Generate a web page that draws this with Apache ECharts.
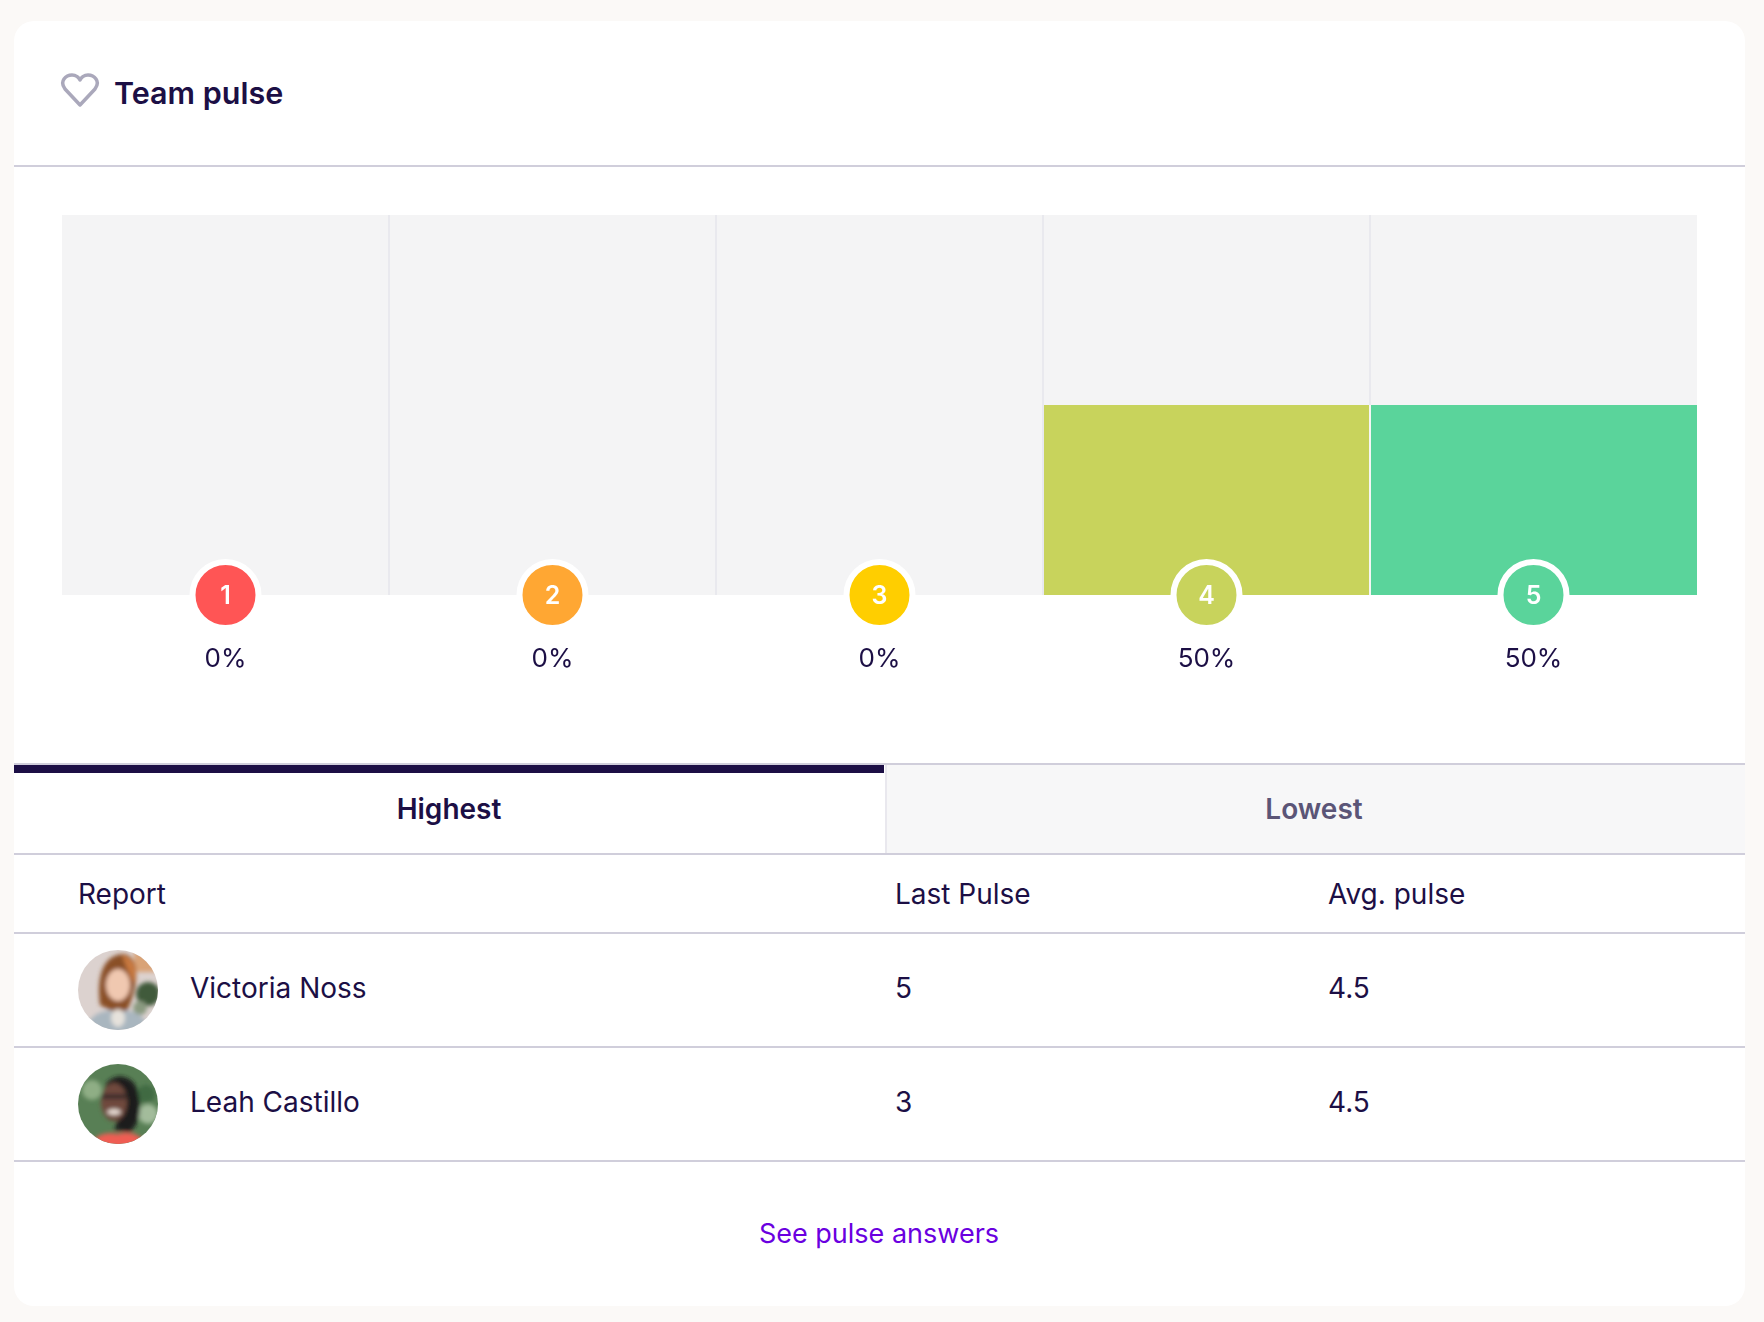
<!DOCTYPE html>
<html>
<head>
<meta charset="utf-8">
<title>Team pulse</title>
<script src="https://cdn.jsdelivr.net/npm/echarts@6/dist/echarts.min.js"></script>
<style>
  html, body { margin: 0; padding: 0; background: #fbf9f7; }
  body { width: 1764px; height: 1322px; position: relative; overflow: hidden; font-family: Inter, "Noto Sans", sans-serif; color: #1c0f45; font-size: 28px; }
  .card { position: absolute; left: 14px; top: 21px; width: 1731px; height: 1285px; background: #fff; border-radius: 20px; }
  .rule { position: absolute; left: 14px; width: 1731px; height: 2px; background: #d0cedb; }
  .txt { position: absolute; white-space: nowrap; line-height: 40px; transform: translateY(-50%); }
  .center { transform: translate(-50%, -50%); }
  .title { font-size: 30.5px; font-weight: 600; }
  .tab { font-weight: 600; }
  #lowest { position: absolute; left: 885px; top: 765px; width: 860px; height: 88px; background: #f7f7f8; border-left: 2px solid #e9e8ee; box-sizing: border-box; }
  #activeBar { position: absolute; left: 14px; top: 765px; width: 870px; height: 8px; background: #1c0f45; }
  #chart { position: absolute; left: 14px; top: 170px; width: 1731px; height: 590px; }
  .avatar { position: absolute; left: 78px; width: 80px; height: 80px; }
</style>
</head>
<body>
<div class="card"></div>

<svg style="position:absolute;left:60px;top:72px" width="40" height="36" viewBox="0 0 40 36">
  <path d="M20 33 L5 17 C-1 9 6 3 12 3 C16 3 19 6 20 8 C21 6 24 3 28 3 C34 3 41 9 35 17 Z" fill="none" stroke="#aaa8bb" stroke-width="3.5" stroke-linejoin="round"/>
</svg>
<div class="txt title" style="left:114px;top:93px">Team pulse</div>
<div class="rule" style="top:165px"></div>

<div id="chart"></div>

<div class="rule" style="top:763px"></div>
<div id="lowest"></div>
<div id="activeBar"></div>
<div class="txt tab center" style="left:449px;top:809px">Highest</div>
<div class="txt tab center" style="left:1314px;top:809px;color:#5b5577">Lowest</div>
<div class="rule" style="top:853px"></div>
<div class="rule" style="top:932px"></div>
<div class="rule" style="top:1046px"></div>
<div class="rule" style="top:1160px"></div>
<div id="table"></div>

<svg class="avatar" style="top:950px" viewBox="0 0 80 80">
  <defs>
    <clipPath id="clipA"><circle cx="40" cy="40" r="40"/></clipPath>
    <filter id="soft"><feGaussianBlur stdDeviation="2"/></filter>
  </defs>
  <g clip-path="url(#clipA)">
    <rect width="80" height="80" fill="#dcd2cf"/>
    <g filter="url(#soft)">
      <rect x="56" y="0" width="24" height="22" fill="#d9a377"/>
      <circle cx="70" cy="44" r="12" fill="#3f5a3a"/>
      <circle cx="62" cy="58" r="7" fill="#8a9a80"/>
      <path d="M22 55 C18 25 26 4 46 4 C60 6 60 28 56 40 C54 50 50 62 44 66 Z" fill="#8a4f28"/>
      <path d="M44 5 C56 7 60 20 56 34 L48 16 Z" fill="#c9793f"/>
      <ellipse cx="40" cy="35" rx="12" ry="16" fill="#f0c8b0"/>
      <path d="M5 90 C8 62 28 58 40 62 C54 58 70 64 74 90 Z" fill="#a9b6bf"/>
      <ellipse cx="40" cy="68" rx="7" ry="9" fill="#e6e2dc"/>
    </g>
  </g>
</svg>
<svg class="avatar" style="top:1064px" viewBox="0 0 80 80">
  <defs><clipPath id="clipB"><circle cx="40" cy="40" r="40"/></clipPath></defs>
  <g clip-path="url(#clipB)">
    <rect width="80" height="80" fill="#587f55"/>
    <g filter="url(#soft)">
      <circle cx="14" cy="26" r="10" fill="#8fae85"/>
      <circle cx="68" cy="30" r="9" fill="#3f6a42"/>
      <circle cx="70" cy="50" r="10" fill="#a3bc9b"/>
      <path d="M28 20 C36 8 56 10 60 28 C64 44 62 60 52 68 L36 66 C44 50 44 30 28 24 Z" fill="#1e1d1f"/>
      <ellipse cx="36" cy="38" rx="13" ry="19" fill="#6f4a3c"/>
      <rect x="24" y="30" width="24" height="5" fill="#3a2c2a"/>
      <ellipse cx="36" cy="48" rx="7" ry="3" fill="#e8dcd4"/>
      <path d="M10 90 C14 68 30 68 40 70 C54 66 68 72 72 90 Z" fill="#ef5d53"/>
    </g>
  </g>
</svg>

<div class="txt center" style="left:879px;top:1234px;color:#6a00e0;font-size:27px">See pulse answers</div>

<script>
// 数据
var scores = ['1', '2', '3', '4', '5'];
var percents = [0, 0, 0, 50, 50];
var scoreColors = ['#ff5555', '#ffa733', '#ffce00', '#c8d35c', '#5ad49b'];

var reportHeaders = ['Report', 'Last Pulse', 'Avg. pulse'];
var reportNames = ['Victoria Noss', 'Leah Castillo'];
var lastPulses = ['5', '3'];
var avgPulses = ['4.5', '4.5'];

// 表格文字
function addText(text, left, top) {
  var el = document.createElement('div');
  el.className = 'txt';
  el.style.left = left + 'px';
  el.style.top = top + 'px';
  el.textContent = text;
  document.getElementById('table').appendChild(el);
}
addText(reportHeaders[0], 78, 894);
addText(reportHeaders[1], 895, 894);
addText(reportHeaders[2], 1328, 894);
var rowTops = [988, 1102];
reportNames.forEach(function (name, i) {
  addText(name, 190, rowTops[i]);
  addText(lastPulses[i], 895, rowTops[i]);
  addText(avgPulses[i], 1328, rowTops[i]);
});

var chart = echarts.init(document.getElementById('chart'));

var option = {
  animation: false,
  grid: { left: 48, top: 45, width: 1635, height: 380, containLabel: false },
  xAxis: {
    type: 'category',
    data: scores,
    axisLine: { show: false },
    axisTick: { show: false },
    axisLabel: {
      margin: 51,
      fontSize: 26,
      fontFamily: 'Inter',
      color: '#1c0f45',
      formatter: function (value, index) { return percents[index] + '%'; }
    }
  },
  yAxis: { type: 'value', min: 0, max: 100, show: false },
  series: [
    {
      type: 'bar',
      data: percents.map(function (v, i) {
        return { value: v, itemStyle: { color: scoreColors[i] } };
      }),
      barWidth: '100%',
      showBackground: true,
      backgroundStyle: { color: '#f4f4f5' }
    },
    {
      // 分隔线：柱子内为白色，背景内为浅灰
      type: 'custom',
      data: percents.slice(0, -1).map(function (v, i) { return [i, v]; }),
      encode: { x: 0, y: 1 },
      z: 3,
      renderItem: function (params, api) {
        var half = api.size([1, 0])[0] / 2;
        var base = api.coord([api.value(0), 0]);
        var mid = api.coord([api.value(0), api.value(1)]);
        var top = api.coord([api.value(0), 100]);
        var x = base[0] + half;
        return {
          type: 'group',
          children: [
            { type: 'line', shape: { x1: x, y1: base[1], x2: x, y2: mid[1] }, style: { stroke: '#f6f6f4', lineWidth: 2 } },
            { type: 'line', shape: { x1: x, y1: mid[1], x2: x, y2: top[1] }, style: { stroke: '#e9e9ee', lineWidth: 2 } }
          ]
        };
      }
    },
    {
      type: 'scatter',
      data: scores.map(function (s, i) {
        return { value: [s, 0], itemStyle: { color: scoreColors[i] } };
      }),
      symbolSize: 66,
      z: 5,
      itemStyle: { borderColor: '#fff', borderWidth: 6, opacity: 1 },
      label: {
        show: true,
        position: 'inside',
        color: '#fff',
        fontSize: 25,
        fontWeight: 600,
        fontFamily: 'Inter',
        offset: [0, 1],
        formatter: function (p) { return p.value[0]; }
      }
    }
  ]
};

chart.setOption(option);
</script>
</body>
</html>
